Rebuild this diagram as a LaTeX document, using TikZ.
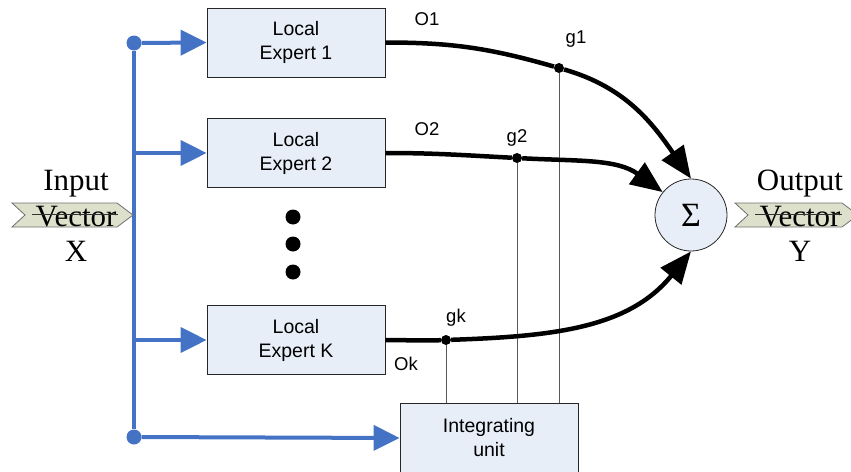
\documentclass[tikz,border=0pt]{standalone}
\usepackage{fontspec}
\setmainfont{Liberation Serif}
\setsansfont{Liberation Sans}
\usetikzlibrary{
    arrows.meta,
    positioning,
    calc
}
\definecolor{boxFill}{RGB}{232,238,248}
\definecolor{feedBlue}{RGB}{68,114,196}
\definecolor{chevFill}{RGB}{221,225,204}
\definecolor{chevLine}{RGB}{110,110,110}

\begin{document}
\begin{tikzpicture}[
    x=1pt,
    y=1pt,
    expert/.style={
        draw=black!85,
        fill=boxFill,
        line width=0.8pt,
        minimum width=178pt,
        minimum height=69pt,
        align=center,
        font=\sffamily\fontsize{19.5}{24}\selectfont
    },
    feed/.style={
        feedBlue,
        line width=4pt,
        -{Triangle[length=26pt,width=25pt]}
    },
    flow/.style={
        black,
        line width=4.5pt,
        -{Triangle[length=32pt,width=26pt]}
    },
    tap/.style={
        black!65,
        line width=1pt
    },
    gate/.style={
        circle,
        fill=black,
        inner sep=0pt,
        minimum size=10pt
    },
    junction/.style={
        circle,
        fill=feedBlue,
        inner sep=0pt,
        minimum size=15pt
    },
    sig/.style={
        anchor=base,
        font=\sffamily\fontsize{18.5}{20}\selectfont
    },
    vec/.style={
        align=center,
        font=\rmfamily\fontsize{31}{35.5}\selectfont
    }
]

\useasboundingbox (0,0) rectangle (851,-471);

% =============================================================
% Experts and integrating unit
% =============================================================

\node[expert] (e1) at (296,-42.5) {Local\\Expert 1};
\node[expert] (e2) at (296,-153) {Local\\Expert 2};
\node[expert] (ek) at (296,-340) {Local\\Expert K};

\node[expert, minimum height=70pt] (unit) at (489,-438)
{Integrating\\unit};

% Dots between expert 2 and expert K
\foreach \y in {217,244,272}{
    \fill (293,-\y) circle (7.5);
}

% Summing node
\node[
    circle,
    draw=black!85,
    fill=boxFill,
    line width=0.8pt,
    minimum size=72pt,
    inner sep=0pt,
    font=\rmfamily\fontsize{34}{34}\selectfont
] (sum) at (691,-215) {Σ};

% =============================================================
% Input distribution (blue bus)
% =============================================================

\node[junction] (jtop) at (134,-43) {};
\node[junction] (jbot) at (134,-437) {};
\coordinate (j2) at (134,-153);
\coordinate (jk) at (134,-340);

\draw[feedBlue, line width=4pt] (jtop) -- (jbot);

\draw[feed] (jtop) -- (e1.west);
\draw[feed] (j2) -- (e2.west);
\draw[feed] (jk) -- (ek.west);
\draw[feed] (jbot) -- (unit.west);

% =============================================================
% Gated outputs
% =============================================================

\node[gate] (g1) at (559,-68) {};
\node[gate] (g2) at (517,-158) {};
\node[gate] (gk) at (446,-340) {};

\draw[tap] (g1) -- (g1 |- unit.north);
\draw[tap] (g2) -- (g2 |- unit.north);
\draw[tap] (gk) -- (gk |- unit.north);

\draw[flow]
(e1.east) to[out=0, in=164] (g1)
to[out=-16, in=125] (sum.north);

\draw[flow]
(e2.east) to[out=0, in=177] (g2)
to[out=-3, in=144] (sum.141);

\draw[flow]
(ek.east) to[out=0, in=182] (gk)
to[out=2, in=-129] (sum.south);

% Output and gate labels
\node[sig] (lo1) at (427,-25) {O1};
\node[sig] (lg1) at (576,-43) {g1};
\node[sig] (lo2) at (427,-135) {O2};
\node[sig] (lg2) at (517,-142) {g2};
\node[sig] (lgk) at (456,-322) {gk};
\node[sig] (lok) at (406,-370) {Ok};

% =============================================================
% Input and output vectors
% =============================================================

\filldraw[fill=chevFill, draw=chevLine, line width=0.8pt]
    (12,-203) -- (117,-203) -- (133,-215) -- (117,-227)
    -- (12,-227) -- (25,-215) -- cycle;

\filldraw[fill=chevFill, draw=chevLine, line width=0.8pt]
    (735,-203) -- (842,-203) -- (858,-215) -- (842,-227)
    -- (735,-227) -- (748,-215) -- cycle;

\node[vec] (invec) at (76,-216) {Input\\Vector\\X};
\node[vec] (outvec) at (800,-216) {Output\\Vector\\Y};

\draw[black!80, line width=1pt] (32,-214) -- (118,-214);
\draw[black!80, line width=1pt] (755,-214) -- (842,-214);

\end{tikzpicture}
\end{document}
